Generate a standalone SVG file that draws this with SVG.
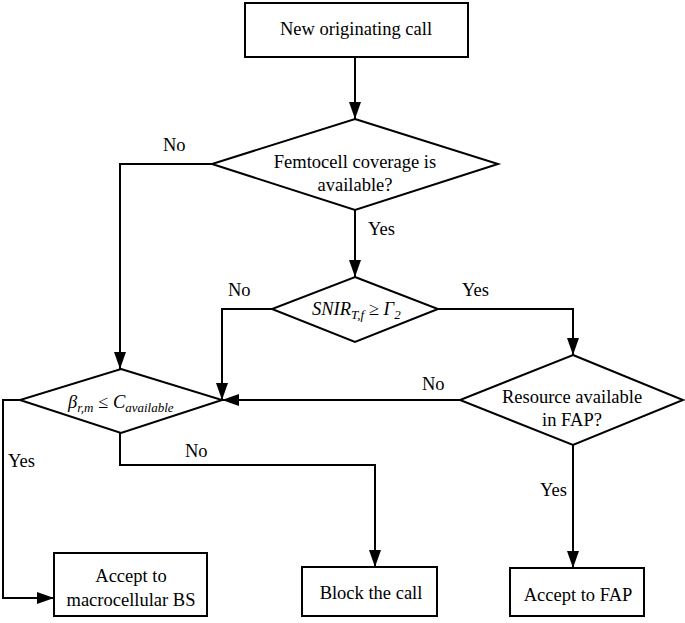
<svg xmlns="http://www.w3.org/2000/svg" width="685" height="623" viewBox="0 0 685 623">
<style>
.s{fill:#fff;stroke:#000;stroke-width:2}
.c{fill:none;stroke:#000;stroke-width:2;marker-end:url(#ah)}
text{font-family:'Liberation Serif','Times New Roman',Tinos,'DejaVu Serif','Noto Serif',serif;font-size:18.5px;fill:#000}
.m{text-anchor:middle}
.i{font-style:italic}
</style>
<defs>
<marker id="ah" markerUnits="userSpaceOnUse" markerWidth="17" markerHeight="12" viewBox="0 0 17 12" refX="17" refY="6" orient="auto">
<path d="M0,0 L17,6 L0,12 z" fill="#000"/>
</marker>
</defs>
<g id="connectors">
<path class="c" d="M355,57 V119"/>
<path class="c" d="M212,164 H120 V369"/>
<path class="c" d="M355,210 V277"/>
<path class="c" d="M272,309 H222 V400"/>
<path class="c" d="M438,309 H573 V355"/>
<path class="c" d="M460,400 H222"/>
<path class="c" d="M573,445 V568"/>
<path class="c" d="M20,400 H3 V598 H54"/>
<path class="c" d="M120,433 V465 H375 V567"/>
<text font-family="Liberation Serif, serif" x="163" y="151">No</text>
<text font-family="Liberation Serif, serif" x="368" y="235">Yes</text>
<text font-family="Liberation Serif, serif" x="228" y="296">No</text>
<text font-family="Liberation Serif, serif" x="462" y="296">Yes</text>
<text font-family="Liberation Serif, serif" x="422" y="390">No</text>
<text font-family="Liberation Serif, serif" x="540" y="496">Yes</text>
<text font-family="Liberation Serif, serif" x="8" y="467">Yes</text>
<text font-family="Liberation Serif, serif" x="185" y="457">No</text>
</g>
<g id="start">
<rect class="s" x="245" y="3" width="223" height="54"/>
<text class="m" x="356" y="35">New originating call</text>
</g>
<g id="femto">
<polygon class="s" points="355,119 498,164 355,210 212,164"/>
<text class="m" x="355" y="168">Femtocell coverage is</text>
<text class="m" x="355" y="191">available?</text>
</g>
<g id="snir">
<polygon class="s" points="355,277 438,309 355,342 272,309"/>
<text x="312" y="315"><tspan class="i">SNIR</tspan><tspan class="i" font-size="13" dy="4">T,f</tspan><tspan dy="-4"> ≥ </tspan><tspan class="i">Γ</tspan><tspan class="i" font-size="13" dy="4">2</tspan></text>
</g>
<g id="beta">
<polygon class="s" points="121,369 222,400 121,433 20,400"/>
<text x="68" y="408"><tspan class="i">β</tspan><tspan class="i" font-size="13" dy="4">r,m</tspan><tspan dy="-4"> ≤ </tspan><tspan class="i">C</tspan><tspan class="i" font-size="13" dy="4">available</tspan></text>
</g>
<g id="resource">
<polygon class="s" points="573,355 683,400 573,445 460,400"/>
<text class="m" x="572" y="403">Resource available</text>
<text class="m" x="572" y="426">in FAP?</text>
</g>
<g id="macro">
<rect class="s" x="54" y="553" width="153" height="63"/>
<text class="m" x="131" y="582">Accept to</text>
<text class="m" x="131" y="606">macrocellular BS</text>
</g>
<g id="block">
<rect class="s" x="302" y="567" width="135" height="49"/>
<text class="m" x="371" y="599">Block the call</text>
</g>
<g id="fap">
<rect class="s" x="510" y="568" width="134" height="48"/>
<text class="m" x="578" y="601">Accept to FAP</text>
</g>
</svg>
